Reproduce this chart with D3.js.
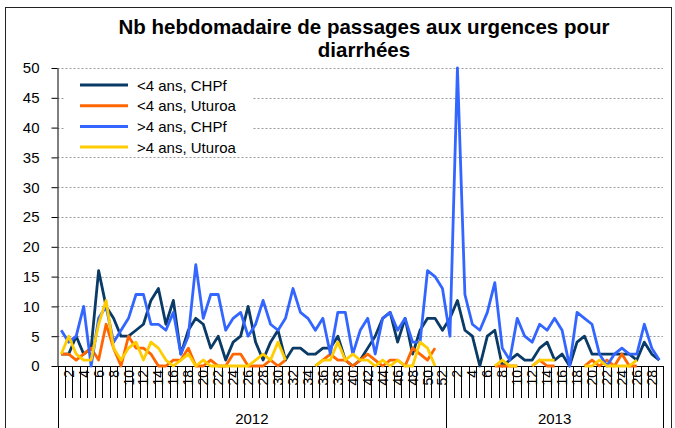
<!DOCTYPE html>
<html>
<head>
<meta charset="utf-8">
<script src="https://cdn.jsdelivr.net/npm/d3@7"></script>
<style>
  body { margin: 0; background: #fff; }
  svg { display: block; font-family: "Liberation Sans", Arial, sans-serif; }
</style>
</head>
<body>
<svg id="chart" width="675" height="428"></svg>
<script>
// weeks: 2012 has 52, 2013 has 29 (labels every second week)
const years = [{ year: '2012', weeks: 52 }, { year: '2013', weeks: 29 }];

// weekly counts, null = no report that week
const lt4Chpf = [
  2, 2, 5, 2, 3, 16, 10, 8, 5, 5, 6, 7, 11, 13, 7, 11, 2, 6, 8, 7,
  3, 5, 1, 4, 5, 10, 4, 1, 4, 6, 1, 3, 3, 2, 2, 3, 3, 5, 1, 0,
  1, 3, 5, 8, 9, 4, 8, 2, 6, 8, 8, 6,
  8, 11, 6, 5, 0, 5, 6, 0, 1, 2, 1, 1, 3, 4, 1, 2, 0, 4, 5, 2,
  2, 2, 2, 2, 2, 1, 4, 2, 1,
];
const lt4Uturoa = [
  2, 2, 1, 2, 3, 1, 7, 3, 0, 5, 3, 3, 2, 0, 0, 1, 1, 3, 0, 0,
  1, 0, 0, 2, 2, 0, 0, 0, 1, 0, 1, null, null, null, 0, 1, 2, 1, 1, 0,
  1, 2, 1, 0, 1, 1, 0, 3, 2, 1, 3, null,
  null, null, null, null, null, null, 0, 0, 0, 0, null, 0, 1, 0, 0, null, null, null, 0, 1,
  0, 1, 0, 2, 0, 0, null, null, null,
];
const gt4Chpf = [
  6, 4, 5, 10, 0, 8, 10, 4, 6, 8, 12, 12, 7, 7, 6, 9, 2, 5, 17, 8,
  12, 12, 6, 8, 9, 5, 7, 11, 7, 6, 8, 13, 9, 8, 6, 8, 2, 9, 9, 2,
  6, 8, 2, 8, 9, 6, 8, 4, 4, 16, 15, 13,
  5, 50, 12, 7, 6, 9, 14, 3, 1, 8, 5, 4, 7, 6, 8, 6, 0, 9, 8, 7,
  2, 0, 2, 3, 2, 2, 7, 3, 1,
];
const gt4Uturoa = [
  2, 5, 2, 1, 1, 7, 11, 3, 1, 3, 4, 1, 4, 3, 1, 0, 1, 2, 0, 1,
  0, 0, 0, 0, 0, 0, 1, 2, 1, 4, 1, null, null, null, 0, 1, 1, 4, 1, 2,
  1, 1, 0, 1, 0, 1, 0, 0, 4, 3, 0, null,
  null, null, null, null, null, null, 0, 1, 0, 0, null, 0, 1, 1, 1, null, null, null, 0, 0,
  1, 0, 0, 0, 0, 1, null, null, null,
];

const series = [
  { name: '<4 ans, CHPf', color: '#0a3a66', values: lt4Chpf },
  { name: '<4 ans, Uturoa', color: '#ff6600', values: lt4Uturoa },
  { name: '>4 ans, CHPf', color: '#3366ff', values: gt4Chpf },
  { name: '>4 ans, Uturoa', color: '#ffcc00', values: gt4Uturoa },
];
const yTicks = [0, 5, 10, 15, 20, 25, 30, 35, 40, 45, 50];

// flat list of categories
const cats = [];
years.forEach((yr) => {
  for (let w = 1; w <= yr.weeks; w++) cats.push({ year: yr.year, week: w, key: yr.year + '-' + w });
});

const svg = d3.select('#chart');
const plotLeft = 57.5, plotRight = 663, plotTop = 68, plotBottom = 366;

const x = d3.scaleBand().domain(cats.map((c) => c.key)).range([plotLeft, plotRight]).padding(0);
const y = d3.scaleLinear().domain([0, 50]).range([plotBottom, plotTop]);
const cx = (i) => x(cats[i].key) + x.bandwidth() / 2;

// outer frame
svg.append('rect')
  .attr('x', 5.5).attr('y', 7.5).attr('width', 666).attr('height', 440)
  .attr('fill', '#fff').attr('stroke', '#222').attr('stroke-width', 1);

// title
svg.append('text')
  .attr('text-anchor', 'middle')
  .attr('font-size', 20.5).attr('font-weight', 'bold')
  .selectAll('tspan')
  .data(['Nb hebdomadaire de passages aux urgences pour', 'diarrhées'])
  .join('tspan')
  .attr('x', 364)
  .attr('y', (d, i) => 34 + i * 23)
  .text((d) => d);

// grid
svg.append('g')
  .selectAll('line')
  .data(yTicks.filter((t) => t > 0))
  .join('line')
  .attr('x1', plotLeft).attr('x2', plotRight)
  .attr('y1', (d) => Math.round(y(d)) + 0.5).attr('y2', (d) => Math.round(y(d)) + 0.5)
  .attr('stroke', '#9a9a9a').attr('stroke-width', 1)
  .attr('stroke-dasharray', '2,2');

// y axis
const yAxis = svg.append('g')
  .attr('transform', `translate(${plotLeft},0)`)
  .call(d3.axisLeft(y).tickValues(yTicks).tickSize(6).tickPadding(12).tickSizeOuter(0));
yAxis.select('.domain').attr('stroke', '#000');
yAxis.selectAll('.tick line').attr('stroke', '#000');
yAxis.selectAll('text')
  .attr('font-size', 15).attr('fill', '#000')
  .attr('font-family', '"Liberation Sans", Arial, sans-serif');

// x axis: baseline, week separators, labels, year separators
const xg = svg.append('g');
xg.append('line')
  .attr('x1', plotLeft).attr('x2', plotRight)
  .attr('y1', plotBottom + 0.5).attr('y2', plotBottom + 0.5)
  .attr('stroke', '#000');

xg.selectAll('line.sep')
  .data(cats)
  .join('line')
  .attr('class', 'sep')
  .attr('x1', (d) => Math.round(x(d.key)) + 0.5)
  .attr('x2', (d) => Math.round(x(d.key)) + 0.5)
  .attr('y1', plotBottom).attr('y2', 398)
  .attr('stroke', '#000');

xg.selectAll('text.wk')
  .data(cats.filter((c) => c.week % 2 === 0))
  .join('text')
  .attr('class', 'wk')
  .attr('transform', (d) => `translate(${x(d.key) + x.bandwidth() / 2 + 5},370) rotate(-90)`)
  .attr('text-anchor', 'end')
  .attr('font-size', 14)
  .text((d) => d.week);

// year groups
let start = 0;
const yearSpans = years.map((yr) => {
  const s = { year: yr.year, x0: x(cats[start].key), x1: x(cats[start + yr.weeks - 1].key) + x.bandwidth() };
  start += yr.weeks;
  return s;
});
xg.selectAll('line.yr')
  .data([yearSpans[0].x0, ...yearSpans.map((s) => s.x1)])
  .join('line')
  .attr('class', 'yr')
  .attr('x1', (d) => Math.round(d) + 0.5).attr('x2', (d) => Math.round(d) + 0.5)
  .attr('y1', plotBottom).attr('y2', 428)
  .attr('stroke', '#000');
xg.selectAll('text.yr')
  .data(yearSpans)
  .join('text')
  .attr('class', 'yr')
  .attr('x', (d) => (d.x0 + d.x1) / 2)
  .attr('y', 424)
  .attr('text-anchor', 'middle')
  .attr('font-size', 15)
  .text((d) => d.year);

// lines
const line = d3.line()
  .defined((d) => d != null)
  .x((d, i) => cx(i))
  .y((d) => y(d));

svg.append('g')
  .selectAll('path')
  .data(series)
  .join('path')
  .attr('d', (s) => line(s.values))
  .attr('fill', 'none')
  .attr('stroke', (s) => s.color)
  .attr('stroke-width', 2.8)
  .attr('stroke-linejoin', 'round');

// legend
const lg = svg.append('g').attr('transform', 'translate(64,74)');
lg.append('rect').attr('width', 188).attr('height', 82).attr('fill', '#fff');
const item = lg.selectAll('g')
  .data(series)
  .join('g')
  .attr('transform', (d, i) => `translate(0,${11 + i * 20.7})`);
item.append('line')
  .attr('x1', 16).attr('x2', 64)
  .attr('stroke', (d) => d.color).attr('stroke-width', 3);
item.append('text')
  .attr('x', 73).attr('y', 5.5)
  .attr('font-size', 15)
  .text((d) => d.name);
</script>
</body>
</html>
